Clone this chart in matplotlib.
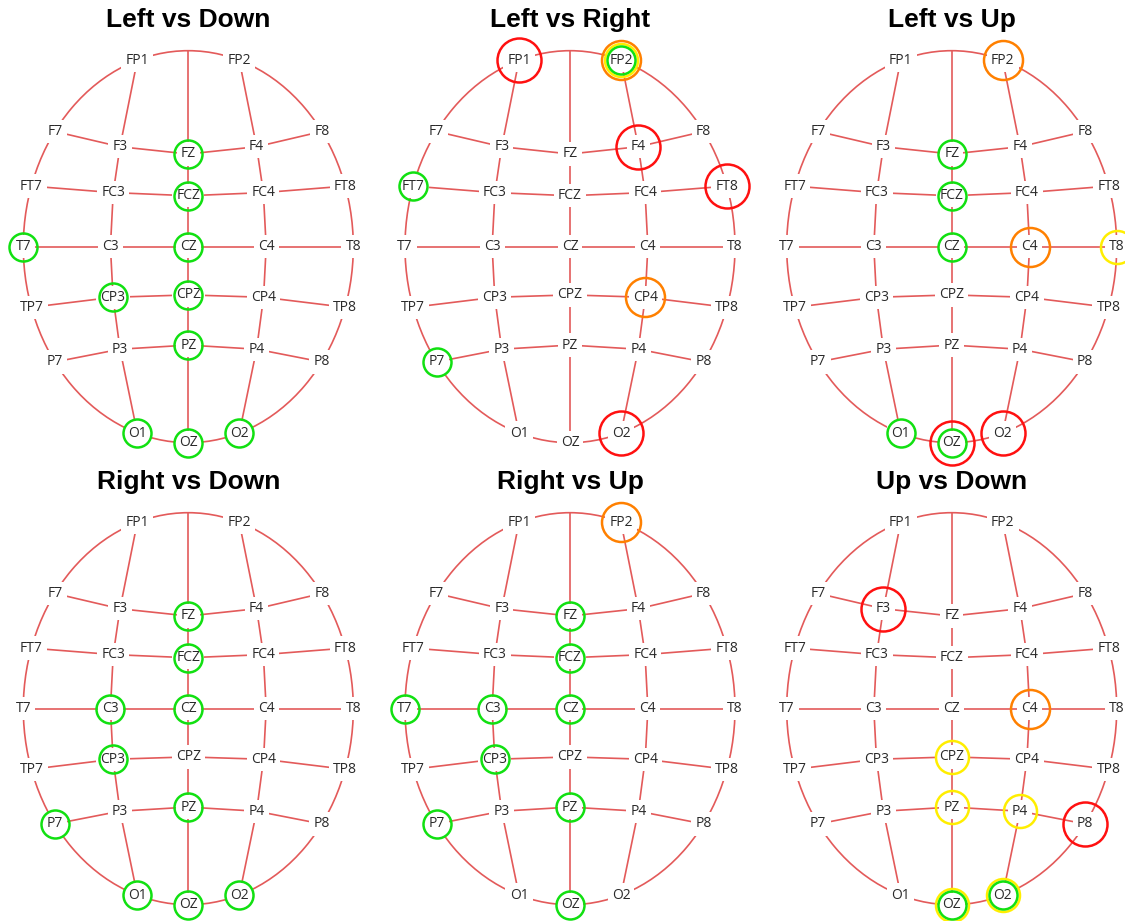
"""Mapas de eletrodos 10-20 com os canais destacados em cada comparação"""
import matplotlib
matplotlib.use("Agg")
from matplotlib import pyplot as plt
from matplotlib.patches import Ellipse


"""Posições dos eletrodos (x e y normalizados pelo raio da cabeça)"""
eletrodos = ['FP1', 'FP2',
             'F7', 'F3', 'FZ', 'F4', 'F8',
             'FT7', 'FC3', 'FCZ', 'FC4', 'FT8',
             'T7', 'C3', 'CZ', 'C4', 'T8',
             'TP7', 'CP3', 'CPZ', 'CP4', 'TP8',
             'P7', 'P3', 'PZ', 'P4', 'P8',
             'O1', 'OZ', 'O2']
pos_x = [-0.309, 0.309,
         -0.809, -0.414, 0.0, 0.414, 0.809,
         -0.951, -0.455, 0.0, 0.455, 0.951,
         -1.0, -0.472, 0.0, 0.472, 1.0,
         -0.951, -0.456, 0.0, 0.456, 0.951,
         -0.809, -0.414, 0.0, 0.414, 0.809,
         -0.309, 0.0, 0.309]
pos_y = [0.951, 0.951,
         0.588, 0.510, 0.473, 0.510, 0.588,
         0.309, 0.276, 0.260, 0.276, 0.309,
         0.0, 0.0, 0.0, 0.0, 0.0,
         -0.309, -0.258, -0.246, -0.258, -0.309,
         -0.588, -0.523, -0.502, -0.523, -0.588,
         -0.951, -1.0, -0.951]

# ligações da grade (linhas e colunas); 'TOPO' é o alto da cabeça
linhas = [['F7', 'F3', 'FZ', 'F4', 'F8'],
          ['FT7', 'FC3', 'FCZ', 'FC4', 'FT8'],
          ['T7', 'C3', 'CZ', 'C4', 'T8'],
          ['TP7', 'CP3', 'CPZ', 'CP4', 'TP8'],
          ['P7', 'P3', 'PZ', 'P4', 'P8'],
          ['FP1', 'F3', 'FC3', 'C3', 'CP3', 'P3', 'O1'],
          ['TOPO', 'FZ', 'FCZ', 'CZ', 'CPZ', 'PZ', 'OZ'],
          ['FP2', 'F4', 'FC4', 'C4', 'CP4', 'P4', 'O2']]

"""Comparações e canais marcados (eletrodo, nível)"""
titulos = ['Left vs Down', 'Left vs Right', 'Left vs Up',
           'Right vs Down', 'Right vs Up', 'Up vs Down']
marcas = [
    [('FZ', 'verde'), ('FCZ', 'verde'), ('T7', 'verde'), ('CZ', 'verde'),
     ('CP3', 'verde'), ('CPZ', 'verde'), ('PZ', 'verde'), ('O1', 'verde'),
     ('OZ', 'verde'), ('O2', 'verde')],
    [('FP1', 'vermelho'), ('FP2', 'laranja'), ('FP2', 'amarelo'), ('FP2', 'verde'),
     ('F4', 'vermelho'), ('FT7', 'verde'), ('FT8', 'vermelho'), ('CP4', 'laranja'),
     ('P7', 'verde'), ('O2', 'vermelho')],
    [('FP2', 'laranja'), ('FZ', 'verde'), ('FCZ', 'verde'), ('CZ', 'verde'),
     ('C4', 'laranja'), ('T8', 'amarelo'), ('O1', 'verde'), ('OZ', 'vermelho'),
     ('OZ', 'verde'), ('O2', 'vermelho')],
    [('FZ', 'verde'), ('FCZ', 'verde'), ('C3', 'verde'), ('CZ', 'verde'),
     ('CP3', 'verde'), ('P7', 'verde'), ('PZ', 'verde'), ('O1', 'verde'),
     ('OZ', 'verde'), ('O2', 'verde')],
    [('FP2', 'laranja'), ('FZ', 'verde'), ('FCZ', 'verde'), ('T7', 'verde'),
     ('C3', 'verde'), ('CZ', 'verde'), ('CP3', 'verde'), ('P7', 'verde'),
     ('PZ', 'verde'), ('OZ', 'verde')],
    [('F3', 'vermelho'), ('C4', 'laranja'), ('CPZ', 'amarelo'), ('PZ', 'amarelo'),
     ('P4', 'amarelo'), ('P8', 'vermelho'), ('OZ', 'amarelo'), ('OZ', 'verde'),
     ('O2', 'amarelo'), ('O2', 'verde')],
]

"""Estilo"""
cores = {'verde': '#11e011', 'amarelo': '#ffee00', 'laranja': '#ff8000', 'vermelho': '#ff1010'}
raios = {'verde': 14, 'amarelo': 16.5, 'laranja': 19.5, 'vermelho': 22}  # em pixels
cor_linha = '#e35a5a'
rx, ry = 165, 196  # raios da cabeça em pixels
centros = [(188.3, 246.7), (570, 246.7), (951.7, 246.7),
           (188.3, 708.7), (570, 708.7), (951.7, 708.7)]
W, H = 1125, 921
meia_l, meia_a = 180, 215

coords = {nome: (x, y) for nome, x, y in zip(eletrodos, pos_x, pos_y)}
coords['TOPO'] = (0.0, 1.0)

fig = plt.figure(figsize=(W / 100, H / 100), dpi=100)

for k, titulo in enumerate(titulos):
    cx, cy = centros[k]
    ax = fig.add_axes([(cx - meia_l) / W, 1 - (cy + meia_a) / H, 2 * meia_l / W, 2 * meia_a / H])
    ax.set_xlim(-meia_l / rx, meia_l / rx)
    ax.set_ylim(-meia_a / ry, meia_a / ry)
    ax.axis('off')

    # contorno da cabeça e grade
    ax.add_patch(Ellipse((0, 0), 2, 2, fill=False, ec=cor_linha, lw=1.2, zorder=1))
    for cadeia in linhas:
        xs = [coords[n][0] for n in cadeia]
        ys = [coords[n][1] for n in cadeia]
        ax.plot(xs, ys, color=cor_linha, lw=1.2, zorder=1)

    # nomes dos eletrodos com fundo branco (cria as falhas nas linhas)
    for nome, x, y in zip(eletrodos, pos_x, pos_y):
        ax.text(x, y, nome, ha='center', va='center', fontsize=10, family='Open Sans',
                color='#2a2a2a', zorder=3,
                bbox=dict(boxstyle='square,pad=0.3', fc='white', ec='none'))

    # círculos dos canais marcados
    for nome, nivel in marcas[k]:
        x, y = coords[nome]
        ax.plot(x, y, 'o', ms=2 * raios[nivel] * 0.72, mfc='none', mec=cores[nivel],
                mew=1.8, zorder=4, clip_on=False)

    ax.text(0, 1.155, titulo, ha='center', va='center', fontsize=19, fontweight='bold',
            family='Liberation Sans', color='black')

plt.savefig('out.png', dpi=100)
